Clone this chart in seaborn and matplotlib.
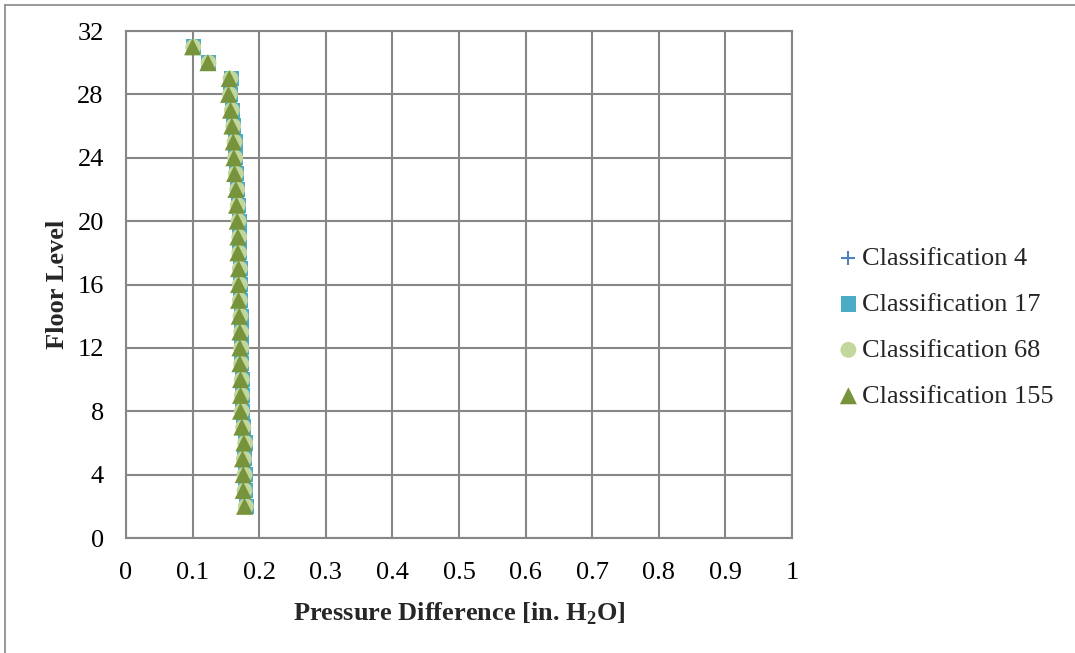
import matplotlib
matplotlib.use("Agg")
import matplotlib.pyplot as plt
from matplotlib.lines import Line2D
import numpy as np
import pandas as pd
import seaborn as sns

# Floor levels and pressure difference per classification
floors = list(range(2, 32))
class_155 = [0.178, 0.176, 0.176, 0.175, 0.177, 0.174, 0.172, 0.172, 0.172, 0.171,
             0.171, 0.171, 0.170, 0.169, 0.169, 0.169, 0.168, 0.168, 0.167, 0.166,
             0.165, 0.163, 0.162, 0.161, 0.159, 0.157, 0.154, 0.155, 0.123, 0.100]
class_68 = [0.180, 0.178, 0.178, 0.177, 0.179, 0.176, 0.174, 0.174, 0.174, 0.173,
            0.173, 0.173, 0.172, 0.171, 0.171, 0.171, 0.170, 0.170, 0.169, 0.168,
            0.167, 0.165, 0.164, 0.163, 0.161, 0.159, 0.156, 0.157, 0.124, 0.101]
class_17 = [0.181, 0.179, 0.179, 0.178, 0.180, 0.177, 0.175, 0.175, 0.175, 0.174,
            0.174, 0.174, 0.173, 0.172, 0.172, 0.172, 0.171, 0.171, 0.170, 0.169,
            0.168, 0.166, 0.165, 0.164, 0.162, 0.160, 0.157, 0.158, 0.124, 0.101]
class_4 = list(class_17)

series_names = ["Classification 4", "Classification 17", "Classification 68", "Classification 155"]
series_values = [class_4, class_17, class_68, class_155]
colors = ["#4F81BD", "#4BACC6", "#C3D69B", "#77933C"]
markers = ["+", "s", "o", "^"]
sizes = [110, 120, 130, 150]

x_ticks = [0, 0.1, 0.2, 0.3, 0.4, 0.5, 0.6, 0.7, 0.8, 0.9, 1]
x_labels = ["0", "0.1", "0.2", "0.3", "0.4", "0.5", "0.6", "0.7", "0.8", "0.9", "1"]
y_ticks = [0, 4, 8, 12, 16, 20, 24, 28, 32]

sns.set_theme(style="white")
plt.rcParams["font.family"] = ["Liberation Serif", "DejaVu Serif"]
plt.rcParams["mathtext.fontset"] = "custom"
plt.rcParams["mathtext.rm"] = "Liberation Serif"
plt.rcParams["mathtext.bf"] = "Liberation Serif:bold"

fig = plt.figure(figsize=(10.75, 6.53), dpi=100)
ax = fig.add_axes([0.1172, 0.1761, 0.6195, 0.7764])

grid_color = "#868686"
for name, vals, c, m, s in zip(series_names, series_values, colors, markers, sizes):
    df = pd.DataFrame({"pressure": vals, "floor": floors})
    if m == "+":
        sns.scatterplot(data=df, x="pressure", y="floor", marker=m, color=c, s=s,
                        linewidth=1.5, ax=ax, label=name, zorder=3)
    else:
        sns.scatterplot(data=df, x="pressure", y="floor", marker=m, color=c, s=s,
                        linewidth=0, edgecolor="none", ax=ax, label=name, zorder=3)

ax.set_xlim(0, 1)
ax.set_ylim(0, 32)
ax.set_xticks(x_ticks)
ax.set_xticklabels(x_labels)
ax.set_yticks(y_ticks)
ax.grid(True, color=grid_color, linewidth=1.5)
ax.set_axisbelow(True)
for sp in ax.spines.values():
    sp.set_color(grid_color)
    sp.set_linewidth(1.5)
ax.tick_params(axis="x", length=0, labelsize=19, colors="black", pad=17)
ax.tick_params(axis="y", length=0, labelsize=19, colors="black", pad=16)

ax.set_xlabel(r"Pressure Difference [in. H$_\mathbf{2}$O]", fontsize=19,
              fontweight="bold", labelpad=12)
ax.set_ylabel("Floor Level", fontsize=19, fontweight="bold", labelpad=6)

leg = ax.legend(loc="center left", bbox_to_anchor=(1.055, 0.416), frameon=False,
                fontsize=19, handlelength=0.7, handletextpad=0.15,
                labelspacing=0.85, markerscale=1.0, borderaxespad=0)

# Outer chart frame (left and top edges)
fig.add_artist(Line2D([5 / 1075, 5 / 1075], [0, 1 - 5 / 653], transform=fig.transFigure,
                      color=grid_color, linewidth=1.2))
fig.add_artist(Line2D([5 / 1075, 1], [1 - 5 / 653, 1 - 5 / 653], transform=fig.transFigure,
                      color=grid_color, linewidth=1.2))

fig.savefig("out.png", dpi=100)
